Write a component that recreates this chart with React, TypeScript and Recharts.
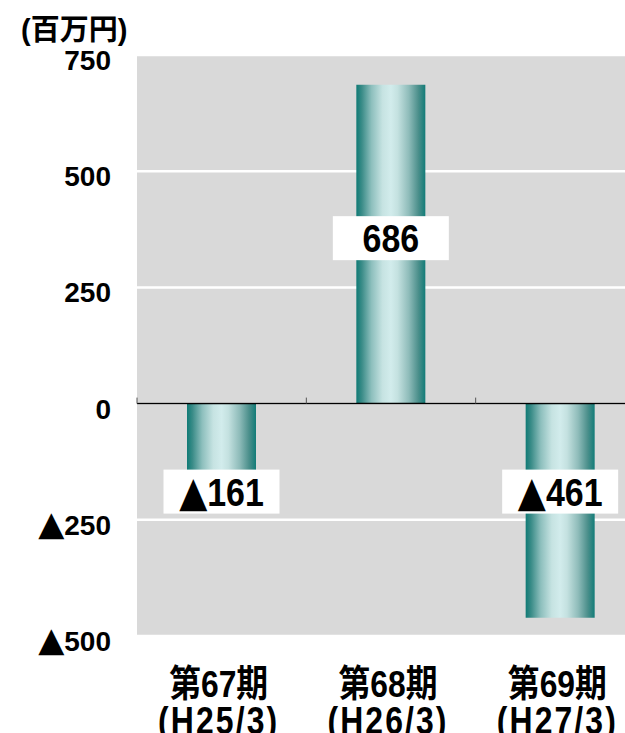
import { Bar, BarChart, CartesianGrid, LabelList, ReferenceLine, XAxis, YAxis } from "recharts";

const PERIODS = ["第67期", "第68期", "第69期"];
const FISCAL = ["(H25/3)", "(H26/3)", "(H27/3)"];
const VALUES = [-161, 686, -461];
const Y_TICKS = [750, 500, 250, 0, -250, -500];
const UNIT = "(百万円)";

const data = PERIODS.map((p, i) => ({ period: p, value: VALUES[i] }));

const SANS = '"Liberation Sans", Arial, "Noto Sans CJK JP", sans-serif';
const TRI = '"DejaVu Sans", sans-serif';
const BG = "#d9d9d9";

// negative numbers are written with a leading ▲
function Num({ v, triSize }: { v: number; triSize: number }) {
  return (
    <>
      {v < 0 && <tspan fontFamily={TRI} fontSize={triSize}>▲</tspan>}
      <tspan>{Math.abs(v)}</tspan>
    </>
  );
}

function YTick({ x, y, payload }: any) {
  return (
    <text x={x} y={y} dy={15} textAnchor="end" fontFamily={SANS} fontWeight={700} fontSize={28} fill="#000">
      <Num v={payload.value} triSize={34} />
    </text>
  );
}

function XTick({ x, y, payload }: any) {
  const fiscal = FISCAL[PERIODS.indexOf(payload.value)];
  return (
    <g transform={`translate(${x - 3},${y})`}>
      <text transform="scale(0.86,1)" y={61} textAnchor="middle" fontFamily={SANS} fontSize={37} fontWeight={700} fill="#000">
        {payload.value}
      </text>
      <text transform="scale(0.84,1)" y={98} textAnchor="middle" fontFamily={SANS} fontSize={38} fontWeight={700} letterSpacing={2.5} fill="#000">
        {fiscal}
      </text>
    </g>
  );
}

function ValueLabel(props: any) {
  const { x, y, width, height, value } = props;
  const zero = value >= 0 ? y + height : height < 0 ? y + height : y;
  const cx = x + width / 2;
  const cy = value >= 0 ? y + height / 2 - 6 : zero + 88;
  const w = 116;
  return (
    <g>
      <rect x={cx - w / 2} y={cy - 22} width={w} height={44} fill="#fff" />
      <g transform={`translate(${cx},${cy})`}>
        <text transform="scale(0.87,1)" dy={14} textAnchor="middle" fontFamily={SANS} fontSize={39} fontWeight={700} fill="#000">
          <Num v={value} triSize={42} />
        </text>
      </g>
    </g>
  );
}

function ZeroAxis(props: any) {
  const { x1, x2, y1 } = props;
  const band = (x2 - x1) / PERIODS.length;
  return (
    <g>
      <line x1={x1} x2={x2} y1={y1} y2={y1} stroke="#000" strokeWidth={1.5} />
      {PERIODS.map((_, i) => (
        <line key={i} x1={x1 + band * i} x2={x1 + band * i} y1={y1 - 6} y2={y1} stroke="#555" strokeWidth={1} />
      ))}
    </g>
  );
}

export default function App() {
  return (
    <div style={{ position: "absolute", left: 0, top: 0, width: 625, height: 733, overflow: "hidden", background: "#fff" }}>
      <BarChart width={645} height={733} data={data} margin={{ top: 55, right: 0, bottom: 0, left: 0 }} barSize={69}>
        <defs>
          <linearGradient id="barGrad" x1="0" y1="0" x2="1" y2="0">
            <stop offset="0%" stopColor="#0f7a75" />
            <stop offset="8%" stopColor="#3a8c88" />
            <stop offset="22%" stopColor="#8dbfbd" />
            <stop offset="38%" stopColor="#c6e3e2" />
            <stop offset="50%" stopColor="#d2ecec" />
            <stop offset="60%" stopColor="#c4e1e0" />
            <stop offset="76%" stopColor="#8fbcba" />
            <stop offset="90%" stopColor="#4b8f8b" />
            <stop offset="100%" stopColor="#127c78" />
          </linearGradient>
        </defs>
        <CartesianGrid vertical={false} stroke="#fff" strokeWidth={2.5} fill={BG} />
        <XAxis dataKey="period" axisLine={false} tickLine={false} tickSize={0} tickMargin={0} height={97} interval={0} tick={<XTick />} />
        <YAxis
          type="number"
          domain={[-500, 750]}
          ticks={Y_TICKS}
          interval={0}
          width={137}
          axisLine={false}
          tickLine={false}
          tickSize={0}
          tickMargin={26}
          tick={<YTick />}
        />
        <Bar dataKey="value" fill="url(#barGrad)" isAnimationActive={false}>
          <LabelList dataKey="value" content={(p: any) => <ValueLabel {...p} />} />
        </Bar>
        <ReferenceLine y={0} shape={(p: any) => <ZeroAxis {...p} />} />
      </BarChart>
      <div style={{ position: "absolute", left: 21, top: 12, fontFamily: SANS, fontWeight: 700, fontSize: 29, lineHeight: "36px" }}>
        {UNIT}
      </div>
    </div>
  );
}
